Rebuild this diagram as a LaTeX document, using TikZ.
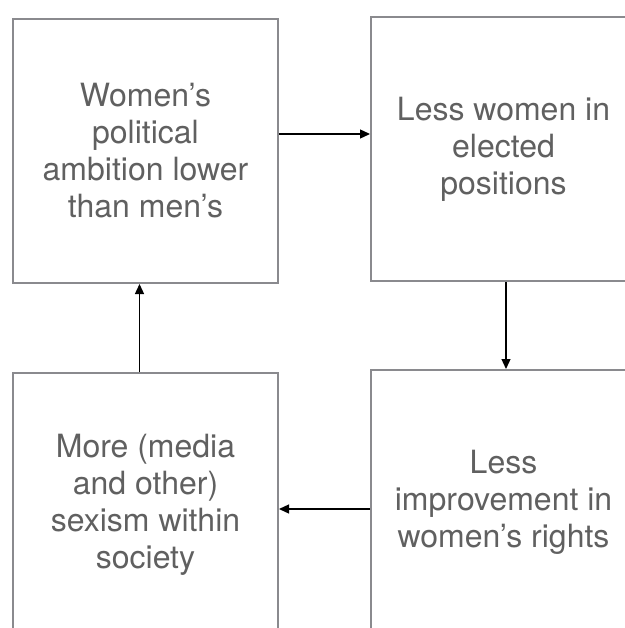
\documentclass[tikz,border=0pt]{standalone}
\usepackage{fontspec}
\setmainfont{TeX Gyre Heros}
\usepackage{tikz}
\usetikzlibrary{positioning,arrows.meta}
\definecolor{boxgray}{RGB}{138,138,142}
\definecolor{textgray}{RGB}{96,96,96}

\begin{document}
\begin{tikzpicture}[
			node distance=90pt,
			box/.style={
				draw=boxgray,
				line width=2pt,
				align=center,
				text=textgray,
				font=\fontsize{32}{37}\selectfont,
				minimum width=265pt,
				minimum height=264pt
			},
			arrow/.style={-{Triangle[length=10pt,width=9pt]},line width=1.3pt,black}
			]
			\useasboundingbox (0,0) rectangle (624pt,-628pt);
			
			\node[box] (ambition) at (145.5pt,-151pt)
			{Women's\\ political\\ ambition lower\\ than men's};
			
			\node[box,right=91pt of ambition,yshift=2pt] (elected)
			{Less women in\\ elected\\ positions};
			
			\node[box,below=87pt of elected] (rights)
			{Less\\ improvement in\\ women's rights};
			
			\node[box,below=88pt of ambition] (sexism)
			{More (media\\ and other)\\ sexism within\\ society};
			
			\draw[arrow] ([yshift=17pt]ambition.east) -- ([yshift=17pt]ambition.east -| elected.west);
			\draw[arrow] ([xshift=2.5pt]elected.south) -- ([xshift=2.5pt]elected.south |- rights.north);
			\draw[arrow] ([yshift=-7pt]rights.west) -- ([yshift=-7pt]rights.west -| sexism.east);
			\draw[arrow] ([xshift=-6pt]sexism.north) -- ([xshift=-6pt]sexism.north |- ambition.south);
			
		\end{tikzpicture}
\end{document}
